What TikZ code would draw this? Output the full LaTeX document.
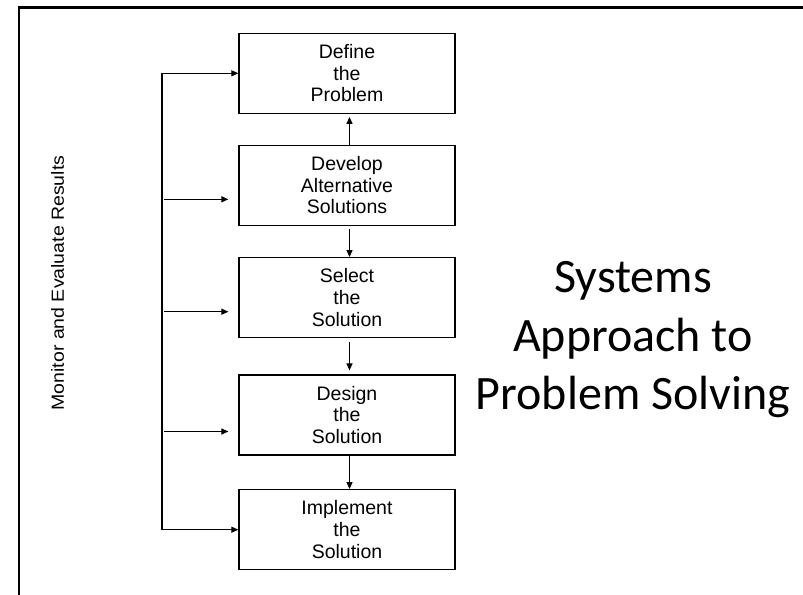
\documentclass[tikz,border=0pt]{standalone}
\usepackage{fontspec}
\setmainfont{Liberation Sans}
\newfontfamily\titlefont{Carlito}
\usetikzlibrary{arrows.meta,calc}
\begin{document}
\begin{tikzpicture}[x=1bp,y=-1bp,
  stepbox/.style={draw, line width=1.2bp, minimum width=216bp, minimum height=80bp,
    inner sep=0pt, align=center, font=\fontsize{19.5bp}{21.7bp}\selectfont},
  arr/.style={line width=1.1bp, -{Triangle[length=7bp,width=6bp]}},
  frame/.style={line width=2.3bp}]
\useasboundingbox (0,0) rectangle (803,595);
\fill[white] (0,0) rectangle (803,595);

% page frame (left and top edges)
\draw[frame] (19,595) -- (19,7.5) -- (803,7.5);

% process steps
\node[stepbox] (define)    at (347,73.3)  {Define\\the\\Problem};
\node[stepbox] (develop)   at (347,185.3) {Develop\\Alternative\\Solutions};
\node[stepbox] (select)    at (347,297.7) {Select\\the\\Solution};
\node[stepbox] (design)    at (347,415)   {Design\\the\\Solution};
\node[stepbox] (implement) at (347,529.7) {Implement\\the\\Solution};

% flow between steps
\draw[arr, shorten >=3bp] ([xshift=2.5bp]develop.north) -- ([xshift=2.5bp]define.south);
\draw[arr, shorten <=3bp] ([xshift=2.5bp]develop.south) -- ([xshift=2.5bp]select.north);
\draw[arr, shorten <=4bp, shorten >=4bp] ([xshift=2.5bp]select.south) -- ([xshift=2.5bp]design.north);
\draw[arr] ([xshift=2.5bp]design.south) -- ([xshift=2.5bp]implement.north);

% feedback rail
\coordinate (rail) at (162,0);
\draw[arr] (implement.west -| rail) -- (define.west -| rail) -- (define.west);
\draw[arr] (implement.west -| rail) -- (implement.west);

% monitoring inputs
\coordinate (in2s) at ($(develop.west)+(-74,14)$);
\coordinate (in2e) at ($(develop.west)+(-10,14)$);
\coordinate (in3s) at ($(select.west)+(-74,14)$);
\coordinate (in3e) at ($(select.west)+(-10,14)$);
\coordinate (in4s) at ($(design.west)+(-74,16.5)$);
\coordinate (in4e) at ($(design.west)+(-10,16.5)$);
\draw[arr] (in2s) -- (in2e);
\draw[arr] (in3s) -- (in3e);
\draw[arr] (in4s) -- (in4e);

% side label
\node[rotate=90, inner sep=0pt, font=\fontsize{19.5bp}{21.7bp}\selectfont] (monitor)
  at (57.5,283) {\scalebox{1}[0.9]{Monitor and Evaluate Results}};

% title
\node[align=center, inner sep=0pt, font=\titlefont\fontsize{48bp}{58.5bp}\selectfont] (title)
  at (633,340) {Systems\\Approach to\\Problem Solving};
\end{tikzpicture}
\end{document}
